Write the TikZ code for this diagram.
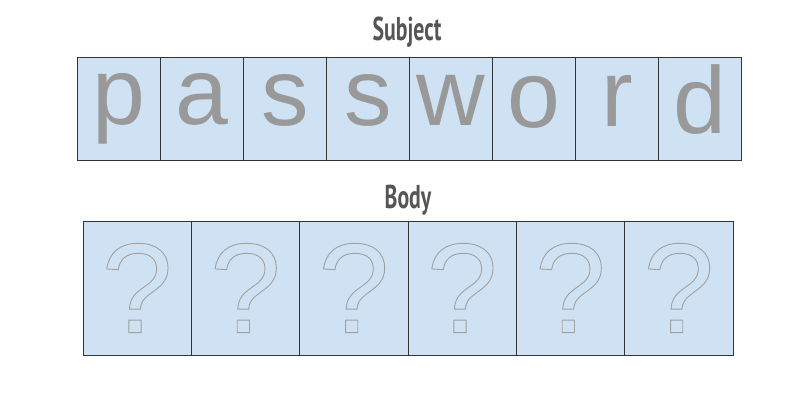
\documentclass[tikz,border=0pt]{standalone}
\usepackage{fontspec}
\setmainfont{Liberation Sans}
\newfontfamily\titlefont[FakeStretch=0.66]{PT Sans}
\definecolor{boxfill}{HTML}{CFE2F3}
\definecolor{boxline}{HTML}{333333}
\definecolor{lettergray}{HTML}{999999}
\definecolor{titlegray}{HTML}{555555}
\definecolor{qgray}{HTML}{A0A0A0}
\newcommand{\outlinetext}[1]{\special{pdf:literal 1 Tr 0.9 w}#1\special{pdf:literal 0 Tr}}
\begin{document}
\begin{tikzpicture}[x=1pt,y=-1pt,
  cell/.style={draw=boxline,fill=boxfill,line width=0.9pt,inner sep=0pt,outer sep=0pt},
  lettercell/.style={cell,minimum width=83.1pt,minimum height=103pt,anchor=north west},
  letter/.style={inner sep=0pt,font=\fontsize{95}{95}\selectfont,text=lettergray},
  qcell/.style={cell,minimum width=108.33pt,minimum height=134pt,anchor=north west,
     font=\fontsize{128}{128}\selectfont,text=qgray},
  title/.style={font=\titlefont\bfseries\fontsize{33}{33}\selectfont,text=titlegray,inner sep=0pt}]
\useasboundingbox (0,0) rectangle (800,400);
\fill[white] (0,0) rectangle (800,400);
\node[title] (subject) at (407,32) {Subject};
\node[title] (body) at (408,200) {Body};
\foreach \ch/\cy [count=\i from 0] in {p/109,a/99,s/100,s/100,w/100,o/102,r/101,d/100}{
  \node[lettercell] (l\i) at (77+\i*83.1,57) {};
  \node[letter] (t\i) at (l\i.center |- 0,\cy) {\ch};
}
\foreach \i in {0,...,5}{
  \node[qcell] (q\i) at (83+\i*108.33,221) {\outlinetext{?}};
}
\end{tikzpicture}
\end{document}
